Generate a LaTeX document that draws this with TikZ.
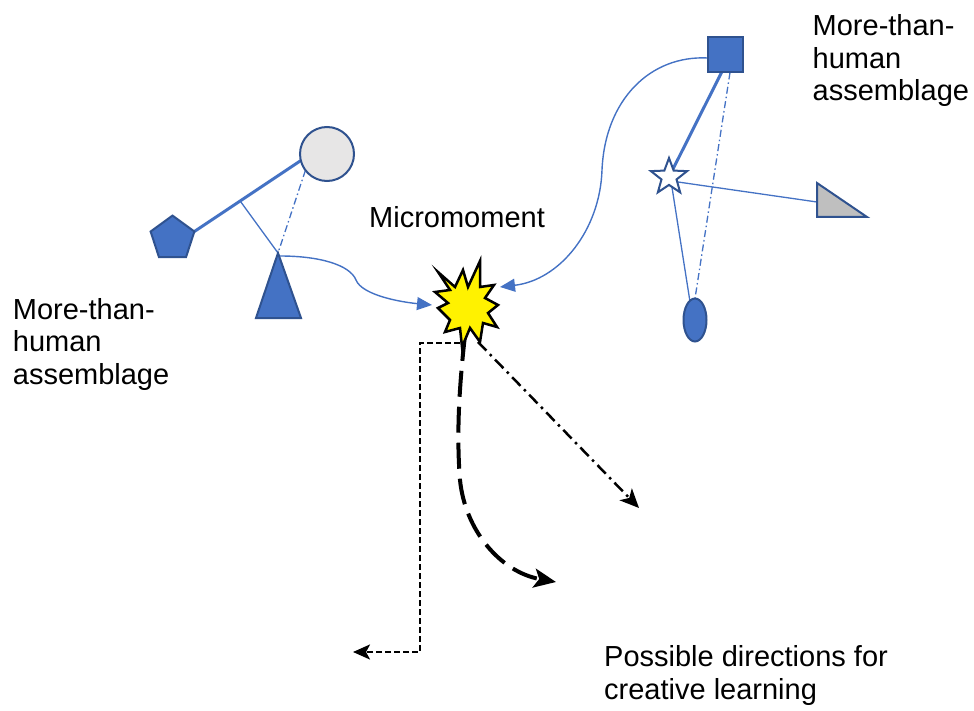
\documentclass[tikz,border=0pt]{standalone}
\usepackage{fontspec}
\setmainfont{Liberation Sans}
\usetikzlibrary{shapes.geometric,arrows.meta,calc}
\definecolor{shapeblue}{HTML}{4472C4}
\definecolor{edgeblue}{HTML}{2F528F}
\definecolor{palegrey}{HTML}{E7E6E6}
\definecolor{midgrey}{HTML}{BFBFBF}
\pgfdeclarelayer{back}
\pgfsetlayers{back,main}
\begin{document}
\begin{tikzpicture}[x=1pt,y=-1pt,
  shp/.style={draw=edgeblue, line width=2pt, inner sep=0pt, outer sep=0pt},
  solidshp/.style={shp, fill=shapeblue},
  lbl/.style={font=\fontsize{29}{32.5}\selectfont, inner sep=0pt, align=left, anchor=base west},
  tie/.style={draw=shapeblue, line width=1.3pt},
  strongtie/.style={draw=shapeblue, line width=3pt},
  loosetie/.style={draw=shapeblue, line width=1.3pt, dash pattern=on 7pt off 3pt on 1.5pt off 3pt},
  pull/.style={draw=shapeblue, line width=1.4pt, -{Triangle[length=15pt,width=13pt]}},
  route/.style={draw=black, line width=2.5pt, dash pattern=on 6pt off 3pt, -{Stealth[length=17pt,width=15pt,inset=4pt]}},
  sweep/.style={draw=black, line width=4pt, dash pattern=on 26pt off 10pt, -{Stealth[length=22pt,width=19pt,inset=5pt]}},
  drift/.style={draw=black, line width=2.5pt, dash pattern=on 12pt off 5pt on 2.5pt off 5pt, -{Stealth[length=19pt,width=17pt,inset=5pt]}}
]
\useasboundingbox (0,0) rectangle (974,711);

% left assemblage
\node[shp, fill=palegrey, circle, minimum size=54pt] (circ) at (327,154) {};
\node[solidshp, regular polygon, regular polygon sides=5, minimum size=46pt] (pent) at (172.5,238.6) {};
\path[solidshp] (278,253) coordinate (apex) -- (301,318) -- (256,318) -- cycle;

% right assemblage
\node[solidshp, rectangle, minimum size=35pt] (sq) at (725.5,55) {};
\node[shp, fill=white, star, star points=5, star point ratio=2.4, minimum size=38pt] (star) at (669,177) {};
\node[solidshp, ellipse, minimum width=23pt, minimum height=43pt] (ell) at (695,320) {};
\path[shp, fill=midgrey] (817,183) -- (817,217) -- (867,217) -- cycle;
\coordinate (rtri) at (817,202);
\coordinate (hub) at (671,181);

% the micromoment burst
\path[draw=black, fill=yellow, line width=2.5pt, line join=miter, miter limit=20]
  (438,272) -- (455,287) -- (463,270) -- (468,287) -- (480,261) -- (480,287)
  -- (494,285) -- (485,298) -- (498,305) -- (488,313) -- (497,327) -- (483,323)
  -- (480,342) -- (470,328) -- (462,347) -- (460,328) -- (445,332) -- (450,320)
  -- (438,308) -- (448,303) -- (435,292) -- (450,290) -- cycle;
\coordinate (burst) at (466,305);
\coordinate (inL) at (432,305);
\coordinate (inR) at (500,287);
\coordinate (outA) at (460,343);
\coordinate (outB) at (465,335);
\coordinate (outC) at (478,342);
\coordinate (endA) at (353,652);
\coordinate (endB) at (556,582);
\coordinate (endC) at (639,508);

% labels (anchored on the baseline of their last line)
\node[lbl] (lblL) at (12.7,384) {More-than-\\human\\assemblage};
\node[lbl] (lblR) at (812.5,101) {More-than-\\human\\assemblage};
\node[lbl] (lblM) at (369,228) {Micromoment};
\node[lbl] (lblP) at (604,699) {Possible directions for\\creative learning};

\begin{pgfonlayer}{back}
  % ties inside the left assemblage
  \draw[strongtie] (pent.corner 5) -- (circ.194);
  \coordinate (mid) at ($(pent.corner 5)!0.43!(circ.194)$);
  \draw[tie] (mid) -- (apex);
  \draw[loosetie] (circ.217) -- (apex);
  % ties inside the right assemblage
  \draw[strongtie] ($(sq.south)+(-4,0)$) -- (star.center);
  \draw[loosetie] ($(sq.south)+(4.5,0)$) -- (ell.north);
  \draw[tie] (hub) -- (rtri);
  \draw[tie] (hub) -- (ell.105);
  % both assemblages feeding the micromoment
  \draw[pull] ($(apex)+(2,3)$) .. controls (320,256) and (350,265) .. (356,280)
     .. controls (362,295) and (400,302) .. (inL);
  \draw[pull] ($(sq.west)+(0,3)$) .. controls (650,55) and (605,100) .. (602,170)
     .. controls (600,230) and (560,280) .. (inR);
  % directions leading away
  \draw[route] (outA) -- (420,343) -- (420,652) -- (endA);
  \draw[sweep] (outB) .. controls (460,380) and (456,430) .. (460,480)
     .. controls (465,530) and (500,572) .. (endB);
  \draw[drift] (outC) -- (endC);
\end{pgfonlayer}
\end{tikzpicture}
\end{document}
